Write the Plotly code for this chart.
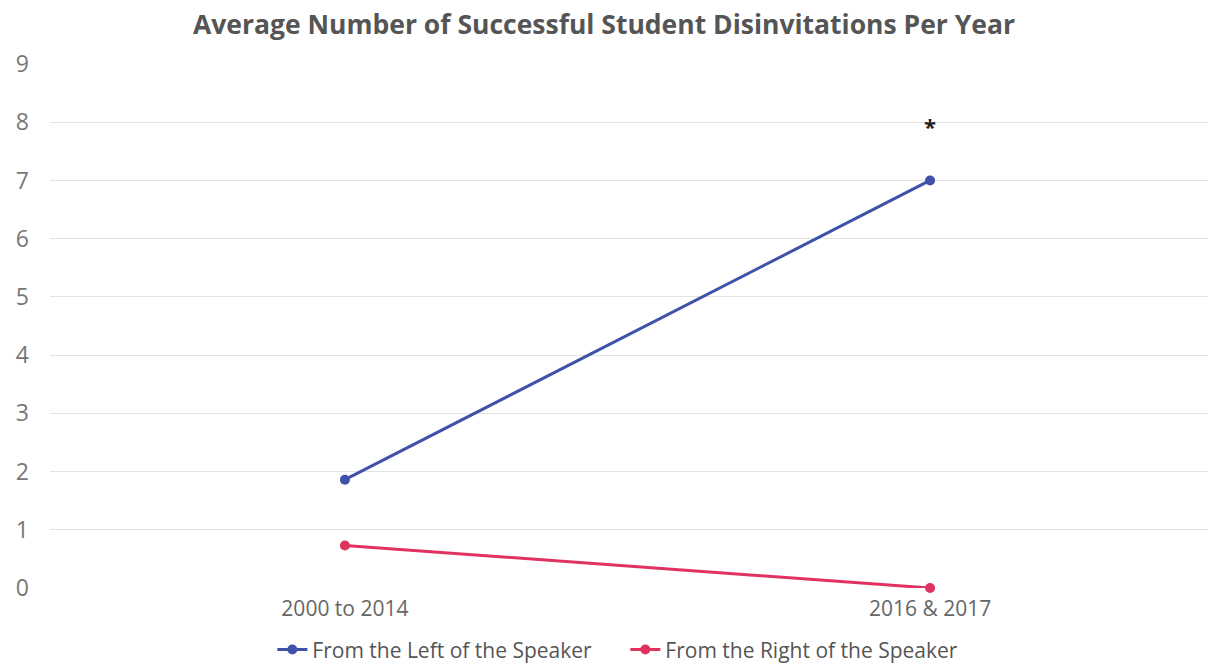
import plotly.graph_objects as go

categories = ["2000 to 2014", "2016 & 2017"]
left_values = [1.86, 7.0]
right_values = [0.73, 0.0]
series_names = ["From the Left of the Speaker", "From the Right of the Speaker"]
y_ticks = [0, 1, 2, 3, 4, 5, 6, 7, 8, 9]
asterisk_y = 8

FONT = "Open Sans"
fig = go.Figure()
fig.add_trace(go.Scatter(
    x=[0, 1], y=left_values, mode="lines+markers", name=series_names[0],
    line=dict(color="#3F51A8", width=3), marker=dict(size=10, color="#3F51A8"),
    cliponaxis=False))
fig.add_trace(go.Scatter(
    x=[0, 1], y=right_values, mode="lines+markers", name=series_names[1],
    line=dict(color="#E0325F", width=3), marker=dict(size=10, color="#E0325F"),
    cliponaxis=False))

fig.add_annotation(x=1, y=asterisk_y, text="<b>*</b>", showarrow=False,
                   font=dict(family=FONT, size=22, color="#222"), yshift=-4)

fig.update_layout(
    width=1208, height=664,
    margin=dict(l=50, r=0, t=64, b=76, autoexpand=False),
    paper_bgcolor="white", plot_bgcolor="white",
    title=dict(text="<b>Average Number of Successful Student Disinvitations Per Year</b>",
               x=0.5, xref="container", y=1 - 25 / 664, yanchor="middle",
               font=dict(family=FONT, size=26.5, color="#555")),
    xaxis=dict(range=[-0.504, 1.475], tickmode="array", tickvals=[0, 1],
               ticktext=categories, showgrid=False, zeroline=False, showline=False,
               tickfont=dict(family=FONT, size=21, color="#666"), ticklabelstandoff=6),
    yaxis=dict(range=[0, 9], tickmode="array", tickvals=y_ticks,
               showgrid=True, gridcolor="#e3e3e3", gridwidth=1, zeroline=False,
               tickfont=dict(family=FONT, size=23, color="#777"), ticklabelstandoff=20),
    legend=dict(orientation="h", x=0.192, xanchor="left", y=-0.118, yanchor="middle",
                font=dict(family=FONT, size=21, color="#555"), itemwidth=30,
                entrywidth=308, entrywidthmode="pixels",
                tracegroupgap=0),
    showlegend=True,
)

fig.write_html("out.html")
